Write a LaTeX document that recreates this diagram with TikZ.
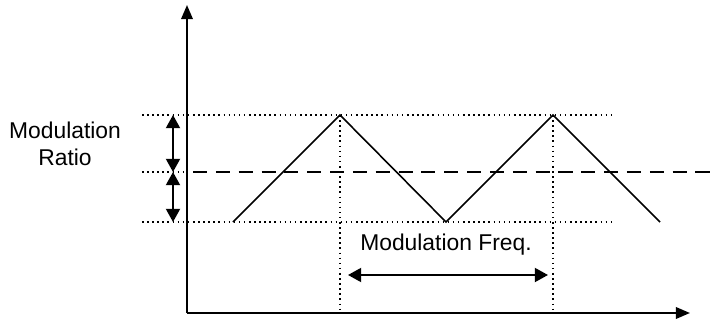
\documentclass[tikz,border=0pt]{standalone}
\usepackage{fontspec}
\setmainfont{Liberation Sans}
\usetikzlibrary{arrows.meta, positioning}
\tikzset{
  axis/.style={
    line width=1.2pt,
    -{Triangle[length=8pt,width=6.5pt]}
  },
  guide/.style={
    dotted,
    line width=0.9pt
  },
  midline/.style={
    dashed,
    dash pattern=on 8pt off 5pt,
    line width=1pt
  },
  wave/.style={
    line width=0.9pt
  },
  span/.style={
    line width=1pt,
    {Triangle[length=7.5pt,width=8pt]}-{Triangle[length=7.5pt,width=8pt]}
  },
  lbl/.style={
    font=\fontsize{13}{15.5}\selectfont,
    align=center,
    inner sep=0pt
  }
}

\begin{document}
\begin{tikzpicture}[x=0.02cm,y=-0.02cm]
\useasboundingbox (0,0) rectangle (725,321);

% --- Axes ---
\coordinate (origin) at (187,313);
\coordinate (ytop) at (187,5);
\coordinate (xend) at (690,313);
\draw[axis] (origin) -- (ytop);
\draw[axis] (origin) -- (xend);

% --- Levels ---
\coordinate (hiL) at (142,115);
\coordinate (hiR) at (612,115);
\coordinate (midL) at (142,172);
\coordinate (midB) at (186,172);
\coordinate (midA) at (193,172);
\coordinate (midR) at (715,172);
\coordinate (loL) at (142,222);
\coordinate (loR) at (612,222);
\draw[guide] (hiL) -- (hiR);
\draw[guide] (loL) -- (loR);
\draw[guide] (midL) -- (midB);
\draw[midline] (midA) -- (midR);

% --- Triangle wave ---
\coordinate (start) at (233,222);
\coordinate (peak1) at (340,115);
\coordinate (trough) at (446,222);
\coordinate (peak2) at (553,115);
\coordinate (stop) at (660,222);
\draw[wave] (start) -- (peak1) -- (trough) -- (peak2) -- (stop);

% --- Period markers ---
\coordinate (foot1) at (340,313);
\coordinate (foot2) at (553,313);
\draw[guide] (peak1) -- (foot1);
\draw[guide] (peak2) -- (foot2);

% --- Modulation ratio ---
\coordinate (rTop) at (173,115);
\coordinate (rMid) at (173,172);
\coordinate (rBot) at (173,222);
\draw[span] (rTop) -- (rMid);
\draw[span] (rMid) -- (rBot);
\node[lbl] (ratio) at (65,144) {Modulation\\Ratio};

% --- Modulation frequency ---
\coordinate (fL) at (348,275);
\coordinate (fR) at (548,275);
\draw[span] (fL) -- (fR);
\node[lbl] (freq) at (446,245) {Modulation Freq.};

\end{tikzpicture}
\end{document}
